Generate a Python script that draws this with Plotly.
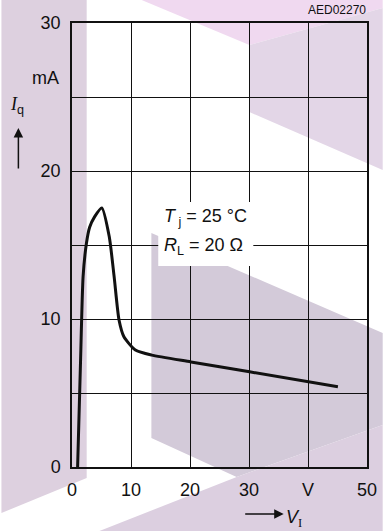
import plotly.graph_objects as go

# Quiescent current vs input voltage (Tj = 25 C, RL = 20 Ohm)
v_in = [0.95, 1.45, 1.88, 2.44, 2.99, 3.82, 5.05, 6.31, 7.14, 7.97, 8.8, 10.74, 13.5, 20.15, 30.1, 45.07]
i_q = [0.0, 7.2, 12.86, 15.1, 16.2, 16.9, 17.5, 15.57, 12.86, 9.93, 8.8, 7.9, 7.56, 7.1, 6.43, 5.42]

x_ticks = [0, 10, 20, 30, 40, 50]
x_labels = ["0", "10", "20", "30", "V", "50"]
y_ticks = [0, 5, 10, 15, 20, 25, 30]
y_labels = ["0", "", "10", "", "20", "", "30"]

W, H = 389, 531
L, R, T, B = 72, 16, 23, 64
PW, PH = W - L - R, H - T - B


def px(x):
    return (x - L) / PW


def py(y):
    return (H - B - y) / PH


def poly(points):
    pts = ["%.4f,%.4f" % (px(a), py(b)) for a, b in points]
    return "M" + " L".join(pts) + " Z"


font = "Liberation Sans, Arial, sans-serif"

fig = go.Figure()
fig.add_trace(go.Scatter(x=v_in, y=i_q, mode="lines",
                         line=dict(color="#111111", width=3, shape="spline", smoothing=0.6),
                         showlegend=False, hoverinfo="skip"))

# decorative background shapes
bg = [
    ([(0, 0), (87, 0), (87, 478), (0, 513)], "#DDD0DF"),
    ([(143, 0), (389, 0), (389, 8), (253, 45)], "#F0D9F0"),
    ([(253, 45), (389, 8), (389, 170), (253, 112)], "#E3D6E7"),
    ([(153, 233), (389, 333), (389, 425), (240, 477), (153, 438)], "#D3CAD9"),
    ([(100, 531), (240, 477), (389, 425), (389, 531)], "#DCCFE0"),
]
shapes = [dict(type="path", xref="paper", yref="paper", path=poly(p), fillcolor=c,
               line=dict(width=0), layer="below") for p, c in bg]
# white box behind the condition text
shapes.append(dict(type="rect", xref="paper", yref="paper", x0=px(160), x1=px(257),
                   y0=py(266), y1=py(202), fillcolor="white", line=dict(width=0), layer="above"))

annotations = [
    dict(x=px(61), y=py(78), text="mA", xanchor="right", yanchor="middle"),
    dict(x=px(374), y=py(10), text="AED02270", xanchor="right", yanchor="middle", font=dict(size=12)),
    dict(x=px(7), y=py(106), xanchor="left", yanchor="middle",
         text='<span style="font-family:Liberation Serif"><i>I</i></span><sub>q</sub>'),
    dict(x=px(288), y=py(518), xanchor="left", yanchor="middle",
         text='<i>V</i><sub><span style="font-family:Liberation Serif">I</span></sub>'),
    dict(x=px(164), y=py(218), xanchor="left", yanchor="middle",
         text="<i>T</i><sub> j</sub> = 25 °C"),
    dict(x=px(164), y=py(247), xanchor="left", yanchor="middle",
         text="<i>R</i><sub>L</sub> = 20 Ω"),
    # axis arrows
    dict(x=px(17.3), y=py(128), ax=0, ay=42, text="", showarrow=True, arrowhead=2,
         arrowwidth=1.5, arrowsize=1.27, arrowcolor="#111111"),
    dict(x=px(288), y=py(514), ax=-40, ay=0, text="", showarrow=True, arrowhead=2,
         arrowwidth=1.5, arrowsize=1.27, arrowcolor="#111111"),
]
for a in annotations:
    a.setdefault("xref", "paper")
    a.setdefault("yref", "paper")
    a.setdefault("showarrow", False)

fig.update_layout(width=W, height=H, margin=dict(l=L, r=R, t=T, b=B),
                  paper_bgcolor="white", plot_bgcolor="rgba(0,0,0,0)",
                  font=dict(family=font, size=18, color="#111111"),
                  shapes=shapes, annotations=annotations, showlegend=False)
fig.update_xaxes(range=[0, 50], tickvals=x_ticks, ticktext=x_labels,
                 showgrid=True, gridcolor="#111111", gridwidth=1,
                 showline=True, linecolor="#111111", linewidth=1.5, mirror=True,
                 zeroline=False, ticks="", ticklabelstandoff=6, fixedrange=True)
fig.update_yaxes(range=[0, 30], tickvals=y_ticks, ticktext=y_labels,
                 showgrid=True, gridcolor="#111111", gridwidth=1,
                 showline=True, linecolor="#111111", linewidth=1.5, mirror=True,
                 zeroline=False, ticks="", ticklabelstandoff=6, fixedrange=True)

# page body has a default margin; remove it so the figure sits at the top-left
fig.write_html("out.html", config={"displayModeBar": False},
               post_script="document.body.style.margin='0';")
